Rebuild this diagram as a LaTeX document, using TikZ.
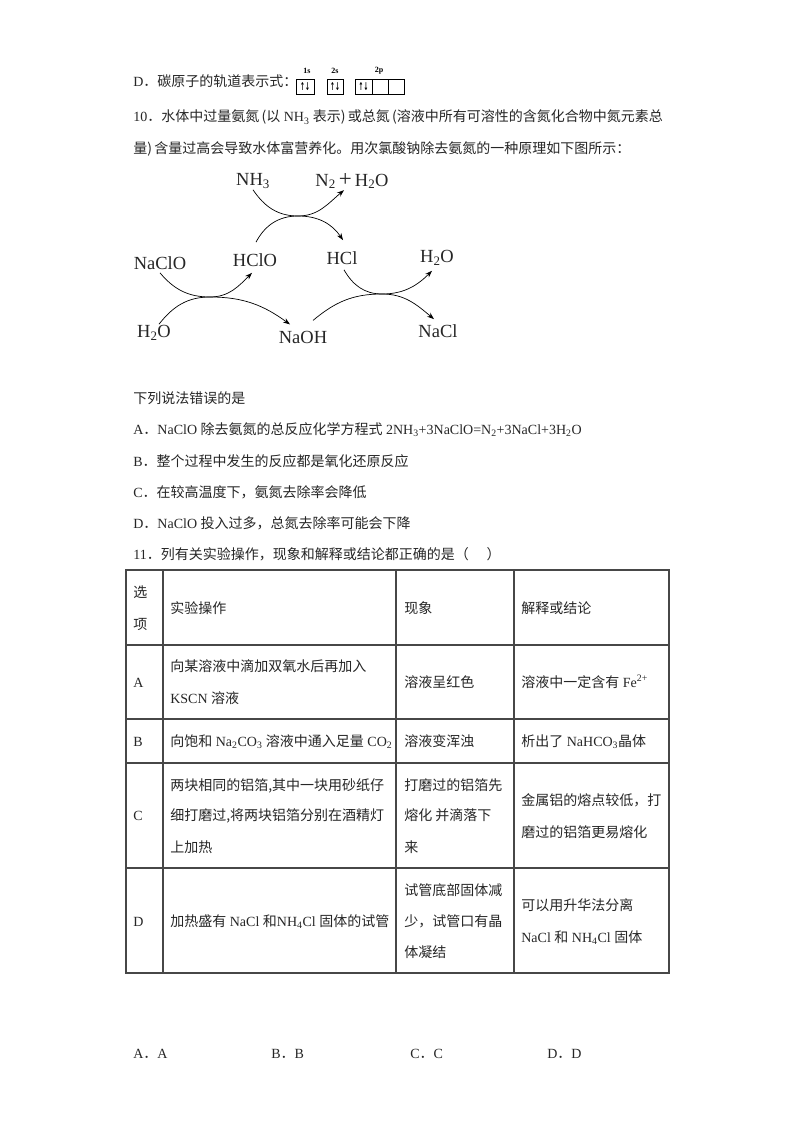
\documentclass[tikz,border=0pt]{standalone}
\usepackage{fontspec}
\setmainfont{Liberation Serif}
\newfontfamily\cjk{Noto Sans CJK SC}
\newfontfamily\sym{DejaVu Sans}
\usetikzlibrary{positioning, arrows.meta}
\newcommand{\zh}[1]{{\cjk #1}}
\newcommand{\sub}[1]{\textsubscript{#1}}
\newcommand{\lpn}{\makebox[7pt][r]{\zh{(}}}
\newcommand{\rpn}{\makebox[7pt][l]{\zh{)}}}
\newcommand{\updown}{\scalebox{0.72}[1.35]{↑↓}}
\tikzset{
  txt/.style = {anchor = base west, inner sep = 0pt, text = black!85, font = \fontsize{14}{16}\selectfont},
  chem/.style = {inner sep = 1pt, text = black!85, font = \fontsize{18.5}{20}\selectfont},
  orb/.style = {draw, - , line width = 0.8pt, inner sep = 0pt, minimum height = 15pt, font = \sym\bfseries\fontsize{8}{8}\selectfont},
  orblabel/.style = {inner sep = 0pt, font = \bfseries\fontsize{8}{9}\selectfont},
  gridline/.style = {- , line width = 2pt, draw = black!72, line cap = rect}
}
\begin{document}
\begin{tikzpicture} [-> , >= {Stealth[length = 7pt, width = 5pt]}, x = 1pt, y = 1pt, line width = 0.7pt]
        \useasboundingbox (0,0) rectangle (794,-1123);
        \fill [white] (0,0) rectangle (794,-1123);

        % top lines
        \node [txt] (qd) at (133,-87) {D\zh{．碳原子的轨道表示式：}};
        \node [orb, minimum width = 18pt] (s1) at (305,-86.5) {\updown};
        \node [orb, minimum width = 16pt] (s2) at (335,-86.5) {\updown};
        \node [orb, minimum width = 17pt] (p1) at (363.5,-86.5) {\updown};
        \node [orb, minimum width = 16pt] (p2) [right = -0.5pt of p1] {};
        \node [orb, minimum width = 16pt] (p3) [right = -0.5pt of p2] {};
        \node [orblabel] (s1t) at (307,-71) {1s};
        \node [orblabel] (s2t) at (335,-71) {2s};
        \node [orblabel] (p2t) at (379,-71) {2p};
        \node [txt] (q10a) at (133,-122) {10\zh{．水体中过量氨氮}\lpn\zh{以} NH\sub{3} \zh{表示}\rpn\zh{或总氮}\lpn\zh{溶液中所有可溶性的含氮化合物中氮元素总}};
        \node [txt] (q10b) at (133,-154) {\zh{量}\rpn\zh{含量过高会导致水体富营养化。用次氯酸钠除去氨氮的一种原理如下图所示：}};

        % reaction scheme
        \node [chem] (nh3) at (253,-181) {NH\sub{3}};
        \node [chem] (n2) at (352,-181) {N\sub{2}\,{\fontsize{23}{23}\selectfont +}\,H\sub{2}O};
        \node [chem] (hclo) at (255,-260) {HClO};
        \node [chem] (hcl) at (342,-258) {HCl};
        \node [chem] (naclo) at (160,-263) {NaClO};
        \node [chem] (h2or) at (437,-258) {H\sub{2}O};
        \node [chem] (h2ol) at (154,-333) {H\sub{2}O};
        \node [chem] (naoh) at (303,-337) {NaOH};
        \node [chem] (nacl) at (438,-331) {NaCl};

        \coordinate (m1) at (298,-216);
        \coordinate (m2) at (210,-297);
        \coordinate (m3) at (382,-294);

        \draw (nh3.south) to [out = -56, in = 180] (m1) to [out = 0, in = -140] ([xshift = -8pt] n2.south);
        \draw ([xshift = 1pt, yshift = 10pt] hclo.north) to [out = 62, in = 180] (m1) to [out = 0, in = 124] ([xshift = 1pt, yshift = 10pt] hcl.north);
        \draw ([yshift = -2pt] naclo.south) to [out = -50, in = 180] (m2) to [out = 0, in = -135] ([xshift = -3pt, yshift = -5pt] hclo.south);
        \draw ([xshift = 5pt] h2ol.north) to [out = 52, in = 180] (m2) to [out = 0, in = 144] ([xshift = -13pt, yshift = 5pt] naoh.north);
        \draw ([xshift = 2pt, yshift = -4pt] hcl.south) to [out = -60, in = 180] (m3) to [out = 0, in = -135] ([xshift = -5pt, yshift = -4pt] h2or.south);
        \draw ([xshift = 10pt, yshift = 9pt] naoh.north) to [out = 40, in = 180] (m3) to [out = 0, in = 140] ([xshift = -4pt, yshift = 4pt] nacl.north);

        % options
        \node [txt] (ask) at (133,-403) {\zh{下列说法错误的是}};
        \node [txt] (ca) at (133,-434) {A\zh{．}NaClO \zh{除去氨氮的总反应化学方程式} 2NH\sub{3}+3NaClO=N\sub{2}+3NaCl+3H\sub{2}O};
        \node [txt] (cb) at (133,-466) {B\zh{．整个过程中发生的反应都是氧化还原反应}};
        \node [txt] (cc) at (133,-497) {C\zh{．在较高温度下，氨氮去除率会降低}};
        \node [txt] (cd) at (133,-528) {D\zh{．}NaClO \zh{投入过多，总氮去除率可能会下降}};
        \node [txt] (q11) at (133,-559) {11\zh{．列有关实验操作，现象和解释或结论都正确的是（\quad\;）}};

        % table
        \foreach \yy in {570,645,719,763,868,973}
            \draw [gridline] (126,-\yy) -- (669,-\yy);
        \foreach \xx in {126,163,396,514,669}
            \draw [gridline] (\xx,-570) -- (\xx,-973);

        \node [txt] (h1a) at (133,-597) {\zh{选}};
        \node [txt] (h1b) at (133,-629) {\zh{项}};
        \node [txt] (h2) at (170,-613) {\zh{实验操作}};
        \node [txt] (h3) at (404,-613) {\zh{现象}};
        \node [txt] (h4) at (521,-613) {\zh{解释或结论}};

        \node [txt] (a1) at (133,-687) {A};
        \node [txt] (a2a) at (170,-671) {\zh{向某溶液中滴加双氧水后再加入}};
        \node [txt] (a2b) at (170,-703) {KSCN \zh{溶液}};
        \node [txt] (a3) at (404,-687) {\zh{溶液呈红色}};
        \node [txt] (a4) at (521,-687) {\zh{溶液中一定含有} Fe\textsuperscript{2+}};

        \node [txt] (b1) at (133,-746) {B};
        \node [txt] (b2) at (170,-746) {\zh{向饱和} Na\sub{2}CO\sub{3} \zh{溶液中通入足量} CO\sub{2}};
        \node [txt] (b3) at (404,-746) {\zh{溶液变浑浊}};
        \node [txt] (b4) at (521,-746) {\zh{析出了} NaHCO\sub{3}\zh{晶体}};

        \node [txt] (c1) at (133,-820) {C};
        \node [txt] (c2a) at (170,-790) {\zh{两块相同的铝箔,其中一块用砂纸仔}};
        \node [txt] (c2b) at (170,-820) {\zh{细打磨过,将两块铝箔分别在酒精灯}};
        \node [txt] (c2c) at (170,-852) {\zh{上加热}};
        \node [txt] (c3a) at (404,-790) {\zh{打磨过的铝箔先}};
        \node [txt] (c3b) at (404,-820) {\zh{熔化 并滴落下}};
        \node [txt] (c3c) at (404,-852) {\zh{来}};
        \node [txt] (c4a) at (521,-805) {\zh{金属铝的熔点较低，打}};
        \node [txt] (c4b) at (521,-837) {\zh{磨过的铝箔更易熔化}};

        \node [txt] (d1) at (133,-926) {D};
        \node [txt] (d2) at (170,-926) {\zh{加热盛有} NaCl \zh{和}NH\sub{4}Cl \zh{固体的试管}};
        \node [txt] (d3a) at (404,-895) {\zh{试管底部固体减}};
        \node [txt] (d3b) at (404,-926) {\zh{少，试管口有晶}};
        \node [txt] (d3c) at (404,-957) {\zh{体凝结}};
        \node [txt] (d4a) at (521,-910) {\zh{可以用升华法分离}};
        \node [txt] (d4b) at (521,-942) {NaCl \zh{和} NH\sub{4}Cl \zh{固体}};

        % answers
        \node [txt] (ansa) at (133,-1058) {A\zh{．}A};
        \node [txt] (ansb) at (271,-1058) {B\zh{．}B};
        \node [txt] (ansc) at (410,-1058) {C\zh{．}C};
        \node [txt] (ansd) at (547,-1058) {D\zh{．}D};
    \end{tikzpicture}
\end{document}
